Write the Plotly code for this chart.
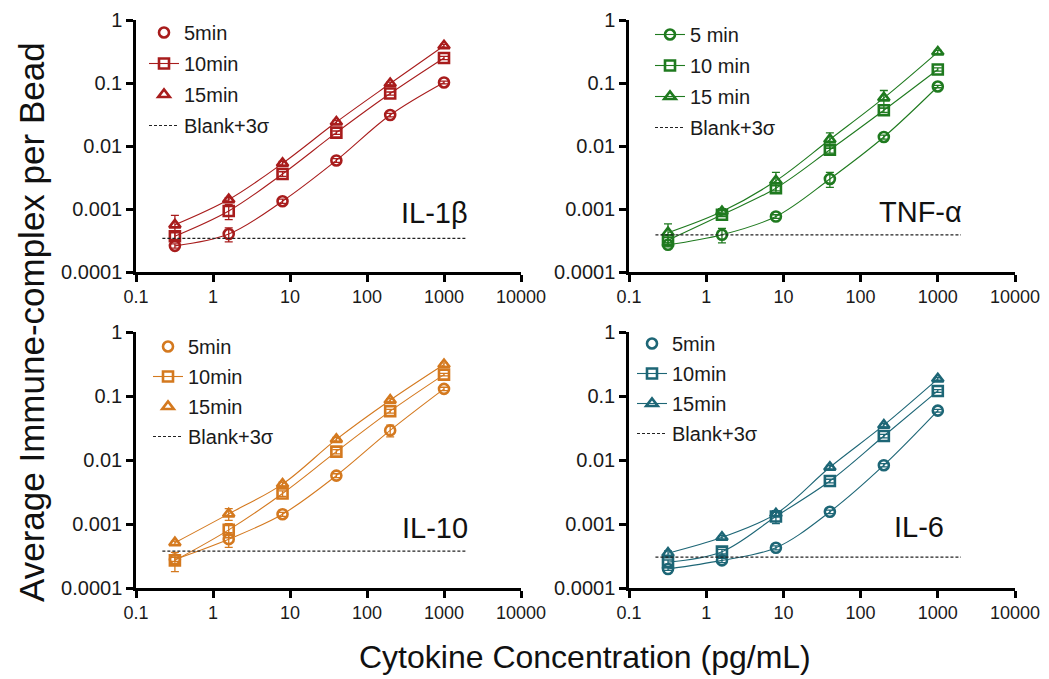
import plotly.graph_objects as go

# the page body adds an 8px margin, so the figure is drawn 8px smaller
OFF = 8
PAGE_W, PAGE_H = 1049, 679
W, H = PAGE_W - OFF, PAGE_H - OFF

conc = [0.32, 1.6, 8, 40, 200, 1000]
blank_x = [0.22, 2000]

panel_names = ["IL-1β", "TNF-α", "IL-10", "IL-6"]
colors = ["#a81c1c", "#1f7a1f", "#d4791f", "#1d6676"]
blank = [0.000342, 0.000387, 0.000377, 0.000304]

# IL-1beta
il1b_5 = [0.00026, 0.00040, 0.00133, 0.0059, 0.031, 0.102]
il1b_10 = [0.00037, 0.00093, 0.0036, 0.0163, 0.068, 0.25]
il1b_15 = [0.00056, 0.00141, 0.0053, 0.024, 0.098, 0.39]
il1b_5_err = [0.00002, 0.00010, 0.0001, 0.0004, 0.002, 0.005]
il1b_10_err = [0.00005, 0.00025, 0.0003, 0.001, 0.004, 0.015]
il1b_15_err = [0.00023, 0.0001, 0.0004, 0.0015, 0.005, 0.02]

# TNF-alpha
tnf_5 = [0.00027, 0.00039, 0.00076, 0.0030, 0.0139, 0.088]
tnf_10 = [0.00032, 0.00081, 0.00214, 0.0087, 0.037, 0.164]
tnf_15 = [0.00042, 0.00091, 0.0028, 0.0127, 0.058, 0.31]
tnf_5_err = [0.00002, 0.00010, 0.00005, 0.0008, 0.001, 0.004]
tnf_10_err = [0.00003, 0.00005, 0.0002, 0.001, 0.003, 0.01]
tnf_15_err = [0.00016, 0.0001, 0.001, 0.0035, 0.018, 0.02]

# IL-10
il10_5 = [0.00028, 0.00058, 0.00142, 0.0057, 0.029, 0.129]
il10_10 = [0.00027, 0.00081, 0.0030, 0.0135, 0.058, 0.216]
il10_15 = [0.00051, 0.00144, 0.0042, 0.021, 0.086, 0.31]
il10_5_err = [0.00002, 0.00015, 0.0001, 0.0004, 0.006, 0.008]
il10_10_err = [0.00009, 0.0002, 0.0003, 0.001, 0.004, 0.01]
il10_15_err = [0.00003, 0.0003, 0.0003, 0.0015, 0.005, 0.02]

# IL-6
il6_5 = [0.000198, 0.00027, 0.000425, 0.00155, 0.0083, 0.059]
il6_10 = [0.000254, 0.00037, 0.00131, 0.0047, 0.0237, 0.12]
il6_15 = [0.00035, 0.00062, 0.00144, 0.0077, 0.035, 0.185]
il6_5_err = [0.00001, 0.00002, 0.00003, 0.0001, 0.0005, 0.003]
il6_10_err = [0.00002, 0.00003, 0.0003, 0.0003, 0.0015, 0.006]
il6_15_err = [0.00003, 0.00004, 0.0001, 0.0005, 0.002, 0.008]

series_values = [
    [il1b_5, il1b_10, il1b_15],
    [tnf_5, tnf_10, tnf_15],
    [il10_5, il10_10, il10_15],
    [il6_5, il6_10, il6_15],
]
series_errors = [
    [il1b_5_err, il1b_10_err, il1b_15_err],
    [tnf_5_err, tnf_10_err, tnf_15_err],
    [il10_5_err, il10_10_err, il10_15_err],
    [il6_5_err, il6_10_err, il6_15_err],
]
legend_labels = [
    ["5min", "10min", "15min"],
    ["5 min", "10 min", "15 min"],
    ["5min", "10min", "15min"],
    ["5min", "10min", "15min"],
]
legend_modes = [
    ["markers", "lines+markers", "markers"],
    ["lines+markers", "lines+markers", "lines+markers"],
    ["markers", "lines+markers", "markers"],
    ["markers", "lines+markers", "lines+markers"],
]
symbols = ["circle-open", "square-open", "triangle-up-open"]
x_ticks = [0.1, 1, 10, 100, 1000, 10000]
x_ticktext = ["0.1", "1", "10", "100", "1000", "10000"]
y_ticks = [0.0001, 0.001, 0.01, 0.1, 1]
y_ticktext = ["0.0001", "0.001", "0.01", "0.1", "1"]

# layout geometry, in page pixels
x_dom_px = [(136, 521), (629, 1015), (136, 521), (629, 1015)]
y_dom_px = [(20, 272), (20, 272), (332, 588), (332, 588)]
legend_pos_px = [(144, 13), (650, 15), (148, 327), (632, 324)]
legend_gap = [2, 2, 1, 1]
label_pos_px = [(470, 213), (964, 212), (470, 528), (946, 527)]


def fx(px):
    return (px - OFF) / W


def fy(py):
    return 1 - (py - OFF) / H


FONT = "Arial, Liberation Sans, sans-serif"

fig = go.Figure()
layout = dict(
    width=W, height=H,
    margin=dict(l=0, r=0, t=0, b=0, autoexpand=False),
    paper_bgcolor="white", plot_bgcolor="white",
    font=dict(family=FONT, color="#1a1a1a"),
    showlegend=True,
    annotations=[],
)

for p in range(4):
    sfx = "" if p == 0 else str(p + 1)
    xa, ya = "x" + sfx, "y" + sfx
    leg = "legend" if p == 0 else "legend" + str(p + 1)
    col = colors[p]
    for s in range(3):
        fig.add_trace(go.Scatter(
            x=conc, y=series_values[p][s], xaxis=xa, yaxis=ya,
            mode="lines+markers", showlegend=False,
            line=dict(color=col, width=1.1, shape="spline", smoothing=1.0),
            marker=dict(symbol=symbols[s], size=10, color=col,
                        line=dict(color=col, width=2.6)),
            error_y=dict(type="data", array=series_errors[p][s], visible=True,
                         color=col, thickness=1.3, width=4),
        ))
    fig.add_trace(go.Scatter(
        x=blank_x, y=[blank[p], blank[p]], xaxis=xa, yaxis=ya,
        mode="lines", showlegend=False,
        line=dict(color="#222222", width=1.2, dash="3px,2px"),
    ))
    for s in range(3):
        fig.add_trace(go.Scatter(
            x=[None], y=[None], xaxis=xa, yaxis=ya,
            mode=legend_modes[p][s], name=legend_labels[p][s],
            legend=leg, legendgroup=f"g{p}_{s}",
            line=dict(color=col, width=1.1),
            marker=dict(symbol=symbols[s], size=10, color=col,
                        line=dict(color=col, width=2.6)),
        ))
    fig.add_trace(go.Scatter(
        x=[None], y=[None], xaxis=xa, yaxis=ya,
        mode="lines", name="Blank+3σ", legend=leg, legendgroup=f"g{p}_b",
        line=dict(color="#222222", width=1.2, dash="3px,2px"),
    ))

    xd = [fx(x_dom_px[p][0]), fx(x_dom_px[p][1])]
    yd = [fy(y_dom_px[p][1]), fy(y_dom_px[p][0])]
    axis_common = dict(
        type="log", showgrid=False, zeroline=False, showline=True,
        linecolor="black", linewidth=2.5, ticks="outside", ticklen=7,
        tickwidth=2.5, tickcolor="black", automargin=False,
        ticklabeloverflow="allow",
    )
    layout["xaxis" + sfx] = dict(
        axis_common, domain=xd, range=[-1, 4], anchor=ya,
        tickvals=x_ticks, ticktext=x_ticktext,
        tickfont=dict(family=FONT, size=18, color="#1a1a1a"),
    )
    layout["yaxis" + sfx] = dict(
        axis_common, domain=yd, range=[-4, 0], anchor=xa,
        tickvals=y_ticks, ticktext=y_ticktext,
        tickfont=dict(family=FONT, size=20, color="#1a1a1a"),
    )
    layout[leg] = dict(
        x=fx(legend_pos_px[p][0]), y=fy(legend_pos_px[p][1]),
        xanchor="left", yanchor="top", bgcolor="rgba(0,0,0,0)",
        font=dict(family=FONT, size=20, color="#1a1a1a"),
        tracegroupgap=legend_gap[p], traceorder="grouped", itemwidth=30,
    )
    layout["annotations"].append(dict(
        text=panel_names[p], x=fx(label_pos_px[p][0]),
        y=fy(label_pos_px[p][1]), xref="paper", yref="paper",
        xanchor="right", yanchor="middle", showarrow=False,
        font=dict(family=FONT, size=29, color="#111111"),
    ))

layout["annotations"].append(dict(
    text="Average Immune-complex per Bead", x=fx(31), y=fy(322),
    xref="paper", yref="paper", textangle=-90, showarrow=False,
    xanchor="center", yanchor="middle",
    font=dict(family=FONT, size=35, color="#111111"),
))
layout["annotations"].append(dict(
    text="Cytokine Concentration (pg/mL)", x=fx(585), y=fy(657),
    xref="paper", yref="paper", showarrow=False,
    xanchor="center", yanchor="middle",
    font=dict(family=FONT, size=32, color="#111111"),
))

fig.update_layout(**layout)
fig.write_html("out.html")
